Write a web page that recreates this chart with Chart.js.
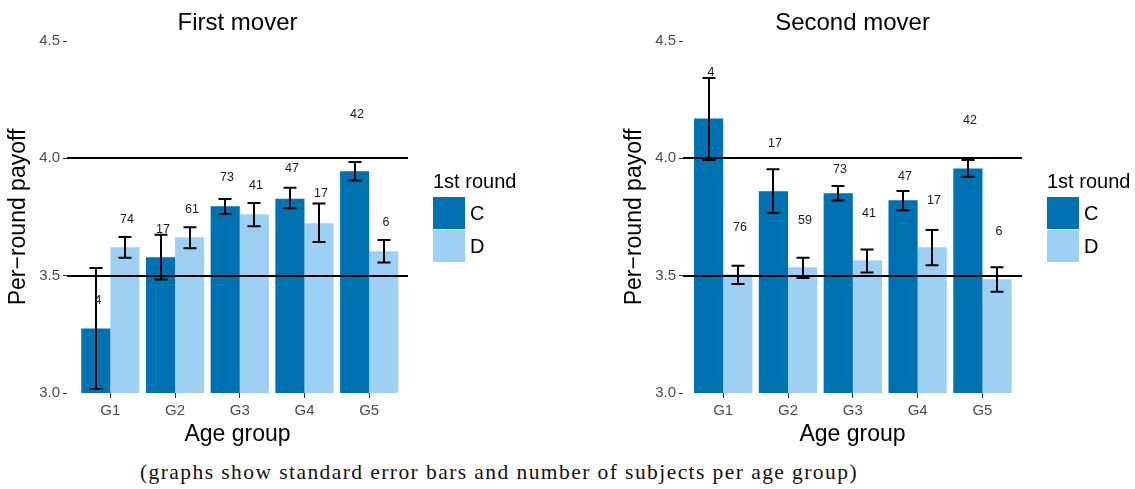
<!DOCTYPE html>
<html>
<head>
<meta charset="utf-8">
<script src="https://cdn.jsdelivr.net/npm/chart.js@4.4.1/dist/chart.umd.min.js"></script>
<style>
    body { margin: 0; background: #fff; }
    #wrap { position: relative; width: 1135px; height: 489px; overflow: hidden; background: #fff; }
    #first-mover { position: absolute; left: 0; top: 0; }
    #second-mover { position: absolute; left: 567px; top: 0; }
    #caption {
        position: absolute; left: 140px; top: 462px; white-space: nowrap;
        font-family: "Liberation Serif", serif; font-size: 21.5px; line-height: 20px; color: #111;
    }
</style>
</head>
<body>
<div id="wrap">
    <canvas id="first-mover" width="567" height="455"></canvas>
    <canvas id="second-mover" width="568" height="455"></canvas>
    <div id="caption">(graphs show standard error bars and number of subjects per age group)</div>
</div>
<script>
var groups = ['G1', 'G2', 'G3', 'G4', 'G5'];
var y_ticks = [3.0, 3.5, 4.0, 4.5];
var ref_lines = [3.5, 4.0];

// First mover
var first_c_mean = [3.275, 3.579, 3.796, 3.828, 3.945];
var first_c_lo = [3.017, 3.484, 3.763, 3.787, 3.906];
var first_c_hi = [3.533, 3.674, 3.827, 3.875, 3.984];
var first_c_n = [4, 17, 73, 47, 42];
var first_c_label_y = [3.396, 3.698, 3.916, 3.956, 4.187];
var first_d_mean = [3.621, 3.664, 3.762, 3.723, 3.604];
var first_d_lo = [3.576, 3.617, 3.711, 3.643, 3.556];
var first_d_hi = [3.665, 3.706, 3.810, 3.808, 3.652];
var first_d_n = [74, 61, 41, 17, 6];
var first_d_label_y = [3.740, 3.783, 3.885, 3.850, 3.725];

// Second mover
var second_c_mean = [4.170, 3.860, 3.851, 3.821, 3.957];
var second_c_lo = [3.993, 3.767, 3.820, 3.779, 3.922];
var second_c_hi = [4.342, 3.953, 3.882, 3.861, 3.993];
var second_c_n = [4, 17, 73, 47, 42];
var second_c_label_y = [4.367, 4.062, 3.952, 3.921, 4.162];
var second_d_mean = [3.506, 3.536, 3.566, 3.621, 3.485];
var second_d_lo = [3.465, 3.490, 3.513, 3.544, 3.431];
var second_d_hi = [3.542, 3.576, 3.612, 3.695, 3.536];
var second_d_n = [76, 59, 41, 17, 6];
var second_d_label_y = [3.703, 3.733, 3.763, 3.820, 3.686];

var color_c = '#0071B1';
var color_d = '#9DD0F2';
var sans = '"Liberation Sans", Arial, sans-serif';

to_points = function (values) {
    return values.map(function (v, i) {
        return { x: i + 1, y: v };
    });
}

var extras_plugin = {
    id: 'extras',
    afterDatasetsDraw: function (chart) {
        var ctx = chart.ctx;
        var y = chart.scales.y;
        var area = chart.chartArea;
        ctx.save();
        ctx.strokeStyle = '#000';
        ctx.lineWidth = 2;
        ref_lines.forEach(function (v) {
            var py = Math.round(y.getPixelForValue(v));
            ctx.beginPath();
            ctx.moveTo(area.left, py);
            ctx.lineTo(area.right, py);
            ctx.stroke();
        });
        chart.data.datasets.forEach(function (ds, di) {
            var meta = chart.getDatasetMeta(di);
            meta.data.forEach(function (bar, i) {
                var x = Math.round(bar.x);
                var top = y.getPixelForValue(ds.err_hi[i]);
                var bottom = y.getPixelForValue(ds.err_lo[i]);
                ctx.strokeStyle = '#000';
                ctx.lineWidth = 2;
                ctx.beginPath();
                ctx.moveTo(x, top);
                ctx.lineTo(x, bottom);
                ctx.moveTo(x - 6.5, top);
                ctx.lineTo(x + 6.5, top);
                ctx.moveTo(x - 6.5, bottom);
                ctx.lineTo(x + 6.5, bottom);
                ctx.stroke();
                ctx.fillStyle = '#1a1a1a';
                ctx.font = '12.5px ' + sans;
                ctx.textAlign = 'center';
                ctx.textBaseline = 'middle';
                ctx.fillText(String(ds.counts[i]), x + 2, y.getPixelForValue(ds.label_y[i]));
            });
        });
        ctx.restore();
    },
    afterDraw: function (chart, args, opts) {
        var ctx = chart.ctx;
        var area = chart.chartArea;
        ctx.save();
        ctx.fillStyle = '#000';
        ctx.font = '24px ' + sans;
        ctx.textAlign = 'center';
        ctx.textBaseline = 'alphabetic';
        ctx.fillText(opts.title, (area.left + area.right) / 2, 30);

        var lx = area.right + 25;
        ctx.textAlign = 'left';
        ctx.font = '20px ' + sans;
        ctx.fillText('1st round', lx, 188);
        chart.data.datasets.forEach(function (ds, di) {
            var by = 197 + di * 33;
            ctx.fillStyle = ds.backgroundColor;
            ctx.fillRect(lx, by, 32, 32);
            ctx.fillStyle = '#000';
            ctx.textBaseline = 'middle';
            ctx.fillText(ds.label, lx + 37, by + 17);
        });
        ctx.restore();
    }
};

function make_panel(canvas_id, title, pad_left, pad_right, x_min, x_max, c, d) {
    return new Chart(document.getElementById(canvas_id), {
        type: 'bar',
        data: {
            datasets: [
                {
                    label: 'C',
                    data: to_points(c.mean),
                    err_lo: c.lo, err_hi: c.hi, counts: c.n, label_y: c.label_y,
                    backgroundColor: color_c,
                    borderWidth: 0,
                    categoryPercentage: 0.9,
                    barPercentage: 1.0
                },
                {
                    label: 'D',
                    data: to_points(d.mean),
                    err_lo: d.lo, err_hi: d.hi, counts: d.n, label_y: d.label_y,
                    backgroundColor: color_d,
                    borderWidth: 0,
                    categoryPercentage: 0.9,
                    barPercentage: 1.0
                }
            ]
        },
        options: {
            responsive: false,
            animation: false,
            layout: { padding: { left: pad_left, right: pad_right, top: 41, bottom: 0 } },
            scales: {
                x: {
                    type: 'linear',
                    min: x_min,
                    max: x_max,
                    offset: false,
                    afterBuildTicks: function (scale) {
                        scale.ticks = groups.map(function (g, i) { return { value: i + 1 }; });
                    },
                    afterFit: function (scale) { scale.height = 62; },
                    border: { display: false },
                    grid: { offset: false, drawOnChartArea: false, drawTicks: true, tickLength: 5, tickColor: '#333', tickWidth: 1 },
                    ticks: {
                        padding: 4,
                        color: '#4d4d4d',
                        font: { family: sans, size: 15 },
                        callback: function (v) { return groups[Math.round(v) - 1]; }
                    },
                    title: {
                        display: true,
                        text: 'Age group',
                        color: '#000',
                        font: { family: sans, size: 23 },
                        padding: { top: 0, bottom: 7 }
                    }
                },
                y: {
                    min: 3,
                    max: 4.5,
                    afterBuildTicks: function (scale) {
                        scale.ticks = y_ticks.map(function (v) { return { value: v }; });
                    },
                    afterFit: function (scale) { scale.width = 67; },
                    border: { display: false },
                    grid: { drawOnChartArea: false, drawTicks: true, tickLength: 4, tickColor: '#333', tickWidth: 1 },
                    ticks: {
                        padding: 3,
                        color: '#4d4d4d',
                        font: { family: sans, size: 15 },
                        callback: function (v) { return Number(v).toFixed(1); }
                    },
                    title: {
                        display: true,
                        text: 'Per\u2212round payoff',
                        color: '#000',
                        font: { family: sans, size: 23 },
                        padding: { top: 5, bottom: 0 }
                    }
                }
            },
            plugins: {
                legend: { display: false },
                tooltip: { enabled: false },
                extras: { title: title }
            }
        },
        plugins: [extras_plugin]
    });
}

make_panel('first-mover', 'First mover', 0, 159, 0.33, 5.6,
    { mean: first_c_mean, lo: first_c_lo, hi: first_c_hi, n: first_c_n, label_y: first_c_label_y },
    { mean: first_d_mean, lo: first_d_lo, hi: first_d_hi, n: first_d_n, label_y: first_d_label_y });

make_panel('second-mover', 'Second mover', 49, 113, 0.38, 5.61,
    { mean: second_c_mean, lo: second_c_lo, hi: second_c_hi, n: second_c_n, label_y: second_c_label_y },
    { mean: second_d_mean, lo: second_d_lo, hi: second_d_hi, n: second_d_n, label_y: second_d_label_y });

// stretch the caption to the width it has in the figure
var caption = document.getElementById('caption');
var caption_w = caption.getBoundingClientRect().width;
caption.style.letterSpacing = ((718 - caption_w) / caption.textContent.length) + 'px';
</script>
</body>
</html>
